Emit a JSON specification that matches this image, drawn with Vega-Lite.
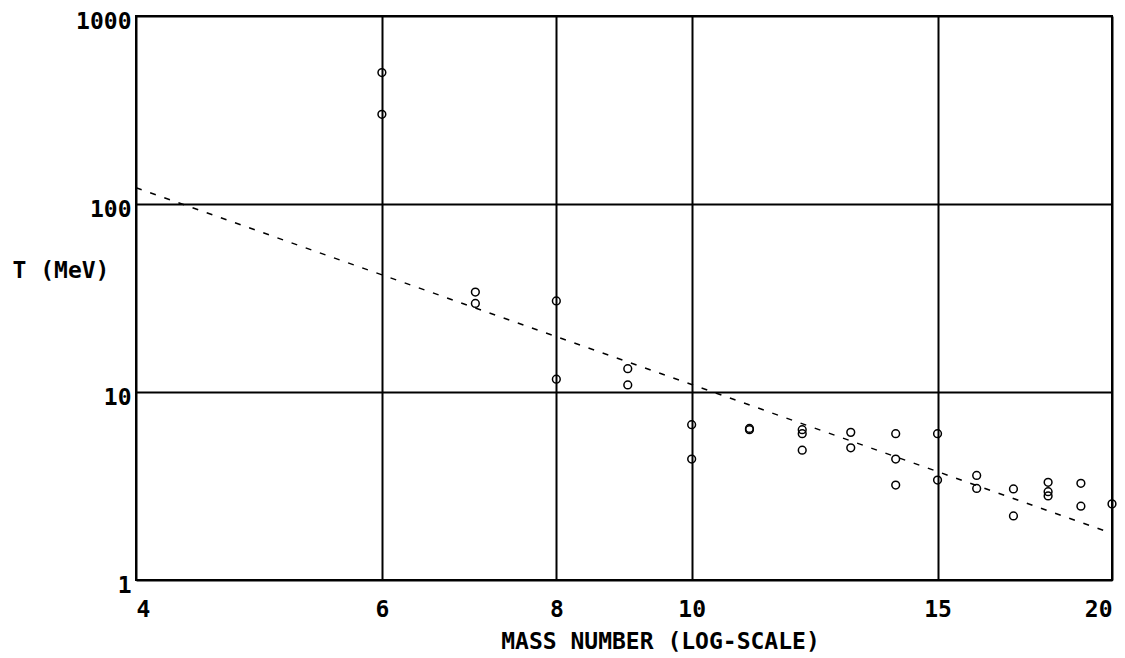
{
  "$schema": "https://vega.github.io/schema/vega-lite/v6.json",
  "width": 976,
  "height": 564,
  "autosize": "none",
  "padding": {"left": 136, "top": 16, "right": 13, "bottom": 78},
  "background": "white",
  "config": {
    "view": {"stroke": "black", "strokeWidth": 2},
    "font": "DejaVu Sans Mono",
    "axis": {
      "grid": true,
      "gridColor": "black",
      "gridOpacity": 1,
      "gridWidth": 2,
      "domain": false,
      "ticks": false,
      "labelFont": "DejaVu Sans Mono",
      "labelFontWeight": "bold",
      "labelFontSize": 23,
      "labelColor": "black",
      "titleFont": "DejaVu Sans Mono",
      "titleFontWeight": "bold",
      "titleFontSize": 23,
      "titleColor": "black"
    }
  },
  "datasets": {
    "pts": [
      {"A": 6, "T": 500}, {"A": 6, "T": 300},
      {"A": 7, "T": 34}, {"A": 7, "T": 29.6},
      {"A": 8, "T": 30.5}, {"A": 8, "T": 11.7},
      {"A": 9, "T": 13.3}, {"A": 9, "T": 10.9},
      {"A": 10, "T": 6.7}, {"A": 10, "T": 4.4},
      {"A": 11, "T": 6.3}, {"A": 11, "T": 6.4},
      {"A": 12, "T": 6.3}, {"A": 12, "T": 6.0}, {"A": 12, "T": 4.9},
      {"A": 13, "T": 6.1}, {"A": 13, "T": 5.05},
      {"A": 14, "T": 6.0}, {"A": 14, "T": 4.4}, {"A": 14, "T": 3.2},
      {"A": 15, "T": 6.0}, {"A": 15, "T": 3.4},
      {"A": 16, "T": 3.6}, {"A": 16, "T": 3.07},
      {"A": 17, "T": 3.05}, {"A": 17, "T": 2.19},
      {"A": 18, "T": 3.31}, {"A": 18, "T": 2.95}, {"A": 18, "T": 2.8},
      {"A": 19, "T": 3.27}, {"A": 19, "T": 2.47},
      {"A": 20, "T": 2.54}
    ],
    "fit": [
      {"A": 4, "T": 122},
      {"A": 20, "T": 1.77}
    ]
  },
  "layer": [
    {
      "data": {"name": "fit"},
      "mark": {"type": "line", "color": "black", "strokeWidth": 1.5, "strokeDash": [6, 9], "clip": true},
      "encoding": {
        "x": {
          "field": "A", "type": "quantitative",
          "scale": {"type": "log", "domain": [4, 20], "nice": false},
          "axis": {
            "values": [4, 6, 8, 10, 15, 20],
            "format": "d",
            "labelPadding": 18,
            "labelFlush": true,
            "title": "MASS NUMBER (LOG-SCALE)",
            "titleX": 524,
            "titleY": 68,
            "titleAlign": "center",
            "titleBaseline": "alphabetic"
          }
        },
        "y": {
          "field": "T", "type": "quantitative",
          "scale": {"type": "log", "domain": [1, 1000], "nice": false},
          "axis": {
            "values": [1, 10, 100, 1000],
            "format": "d",
            "labelPadding": 5,
            "labelOffset": 5,
            "labelOverlap": false,
            "labelBound": false,
            "labelFlush": false,
            "title": "T (MeV)",
            "titleAngle": 0,
            "titleX": -124,
            "titleY": 254,
            "titleAlign": "left",
            "titleBaseline": "middle"
          }
        }
      }
    },
    {
      "data": {"name": "pts"},
      "mark": {"type": "point", "shape": "circle", "filled": false, "color": "black", "size": 60, "strokeWidth": 1.5, "opacity": 1},
      "encoding": {
        "x": {"field": "A", "type": "quantitative"},
        "y": {"field": "T", "type": "quantitative"}
      }
    }
  ]
}
